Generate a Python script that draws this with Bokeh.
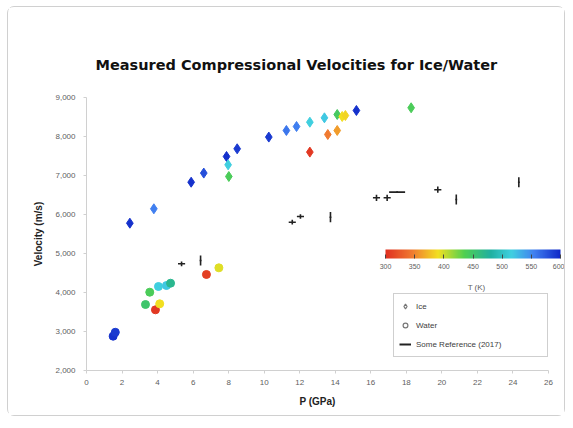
from bokeh.plotting import figure
from bokeh.models import (ColumnDataSource, LinearColorMapper, ColorBar, FixedTicker,
                          NumeralTickFormatter, Legend, LegendItem, Label, Range1d)
from bokeh.embed import file_html
from bokeh.resources import INLINE

# ---------------- data ----------------
ice_p = [2.44, 3.79, 5.89, 6.60, 7.88, 7.97, 8.01, 8.48, 10.26, 11.25, 11.82, 12.57,
         12.57, 13.39, 14.11, 14.39, 14.57, 15.19, 13.58, 14.11, 18.27]
ice_v = [5777, 6146, 6828, 7062, 7487, 7274, 6974, 7685, 7985, 8154, 8256, 8367,
         7600, 8479, 8564, 8513, 8538, 8667, 8051, 8154, 8736]
ice_t = [595, 555, 595, 580, 595, 515, 440, 590, 590, 560, 555, 515,
         305, 520, 445, 390, 385, 595, 345, 360, 440]

water_p = [1.50, 1.62, 3.56, 3.32, 3.88, 4.12, 4.05, 4.50, 4.73, 6.75, 7.45]
water_v = [2880, 2980, 4008, 3692, 3556, 3710, 4154, 4179, 4238, 4462, 4633]
water_t = [595, 590, 440, 450, 305, 390, 515, 520, 470, 310, 395]

ref_p = [5.35, 6.42, 11.58, 12.04, 13.73, 16.32, 16.92, 17.48, 19.77, 20.81, 24.33]
ref_v = [4736, 4821, 5803, 5949, 5931, 6428, 6428, 6574, 6636, 6385, 6828]
ref_perr = [0.2, 0.05, 0.2, 0.2, 0.05, 0.2, 0.2, 0.45, 0.2, 0.05, 0.05]
ref_verr = [60, 130, 60, 60, 130, 80, 80, 20, 80, 130, 130]

x_ticks = [0, 2, 4, 6, 8, 10, 12, 14, 16, 18, 20, 22, 24, 26]
y_ticks = [2000, 3000, 4000, 5000, 6000, 7000, 8000, 9000]
cbar_ticks = [300, 350, 400, 450, 500, 550, 600]

title_text = "Measured Compressional Velocities for Ice/Water"
legend_labels = ["Ice", "Water", "Some Reference (2017)"]

# ---------------- palette ----------------
stops = [(0.00, (224, 48, 32)), (0.15, (240, 122, 48)), (0.30, (242, 224, 32)),
         (0.45, (80, 208, 80)), (0.60, (32, 176, 160)), (0.72, (64, 208, 224)),
         (0.85, (64, 128, 240)), (1.00, (16, 40, 200))]
palette = []
for i in range(256):
    f = i / 255
    for (f0, c0), (f1, c1) in zip(stops[:-1], stops[1:]):
        if f0 <= f <= f1:
            t = (f - f0) / (f1 - f0)
            c = tuple(int(round(a + (b - a) * t)) for a, b in zip(c0, c1))
            palette.append("#%02x%02x%02x" % c)
            break
mapper = LinearColorMapper(palette=palette, low=300, high=600)

FONT = "Liberation Sans"

p = figure(width=558, height=410, x_range=(0, 26), y_range=(2000, 9000),
           output_backend="svg", toolbar_location=None,
           min_border_left=78, min_border_right=18, min_border_top=90, min_border_bottom=47)
p.styles = {"margin-left": "7px", "margin-top": "6px", "border": "1px solid #d0d0d0",
            "border-radius": "7px"}
p.outline_line_color = None
p.xgrid.grid_line_color = None
p.ygrid.grid_line_color = None
# off-screen range used only for legend sample glyphs
p.extra_y_ranges = {"legend_only": Range1d(start=-2, end=-1)}

p.title.text = title_text
p.title.text_font = "DejaVu Sans"
p.title.text_font_size = "14.5px"
p.title.text_font_style = "bold"
p.title.text_color = "#111111"
p.title.align = "left"
p.title.offset = 9
p.title.standoff = 50

for ax in (p.xaxis[0], p.yaxis[0]):
    ax.axis_line_color = "#d0d0d0"
    ax.major_tick_line_color = "#d0d0d0"
    ax.major_tick_out = 3
    ax.major_tick_in = 0
    ax.minor_tick_line_color = None
    ax.major_label_text_font = FONT
    ax.major_label_text_font_size = "8px"
    ax.major_label_text_color = "#606060"
    ax.axis_label_text_font = FONT
    ax.axis_label_text_font_size = "10px"
    ax.axis_label_text_font_style = "bold"
    ax.axis_label_text_color = "#222222"

p.xaxis.ticker = FixedTicker(ticks=x_ticks)
p.yaxis.ticker = FixedTicker(ticks=y_ticks)
p.yaxis.formatter = NumeralTickFormatter(format="0,0")
p.xaxis.axis_label = "P (GPa)"
p.yaxis.axis_label = "Velocity (m/s)"
p.xaxis.major_label_standoff = 6
p.xaxis.axis_label_standoff = 8
p.yaxis.major_label_standoff = 8
p.yaxis.axis_label_standoff = 8

# reference data with error bars
ref_src = ColumnDataSource(dict(
    x=ref_p, y=ref_v,
    x0=[a - e for a, e in zip(ref_p, ref_perr)], x1=[a + e for a, e in zip(ref_p, ref_perr)],
    y0=[a - e for a, e in zip(ref_v, ref_verr)], y1=[a + e for a, e in zip(ref_v, ref_verr)]))
p.segment(x0="x0", x1="x1", y0="y", y1="y", source=ref_src, line_color="#222222", line_width=1.6)
p.segment(x0="x", x1="x", y0="y0", y1="y1", source=ref_src, line_color="#222222", line_width=1.6)

ice_src = ColumnDataSource(dict(x=ice_p, y=ice_v, t=ice_t))
water_src = ColumnDataSource(dict(x=water_p, y=water_v, t=water_t))
p.scatter("x", "y", source=ice_src, marker="diamond", size=10,
          fill_color={"field": "t", "transform": mapper},
          line_color={"field": "t", "transform": mapper})
p.scatter("x", "y", source=water_src, marker="circle", size=8,
          fill_color={"field": "t", "transform": mapper},
          line_color={"field": "t", "transform": mapper})

# legend sample glyphs (drawn on an off-screen range)
r1 = p.scatter(ice_p[:1], ice_v[:1], marker="diamond", size=9, fill_color="white",
               line_color="#777777", line_width=1.2, y_range_name="legend_only")
r2 = p.scatter(water_p[:1], water_v[:1], marker="circle", size=8, fill_color="white",
               line_color="#777777", line_width=1.2, y_range_name="legend_only")
r3 = p.line(ref_p[:2], ref_v[:2], line_color="#222222", line_width=2,
            y_range_name="legend_only")
legend = Legend(items=[LegendItem(label=legend_labels[0], renderers=[r1]),
                       LegendItem(label=legend_labels[1], renderers=[r2]),
                       LegendItem(label=legend_labels[2], renderers=[r3])],
                location=(307, 13), label_text_font=FONT, label_text_font_size="8px",
                label_text_color="#404040", glyph_width=12, glyph_height=14,
                label_height=14, spacing=5, padding=5, margin=0,
                border_line_color="#a0a0a0", label_width=126)
p.add_layout(legend, "center")

cbar = ColorBar(color_mapper=mapper, orientation="horizontal", width=175, height=9,
                location=(299, 99), padding=0, ticker=FixedTicker(ticks=cbar_ticks),
                major_label_text_font=FONT, major_label_text_font_size="7px",
                major_label_text_color="#606060", major_tick_line_color="#444444",
                major_tick_in=4, major_tick_out=0, bar_line_color=None,
                background_fill_alpha=0, border_line_color=None, label_standoff=5)
p.add_layout(cbar, "center")

p.add_layout(Label(x=21.95, y=4128, text="T (K)", text_font=FONT, text_font_size="8px",
                   text_color="#606060", text_align="center", text_baseline="middle"))

open("out.html", "w").write(file_html(p, INLINE))
